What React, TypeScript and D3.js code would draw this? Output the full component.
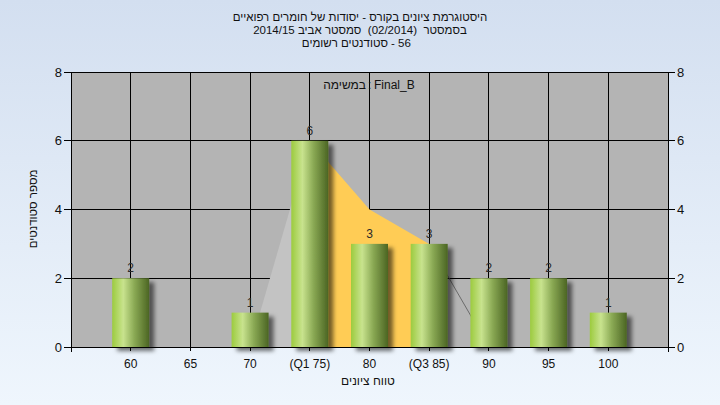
import React from "react";
import * as d3 from "d3";

const categories = [60, 65, 70, 75, 80, 85, 90, 95, 100];
const categoryLabels = ["60", "65", "70", "(Q1 75)", "80", "(Q3 85)", "90", "95", "100"];
const counts = [2, 0, 1, 6, 3, 3, 2, 2, 1];
const curveX = [70, 75, 80, 85, 90];
const curveY = [0, 6, 4, 3, 0];
const q1 = 75;
const q3 = 85;
const yTicks = [0, 2, 4, 6, 8];
const titleLine1 = "היסטוגרמת ציונים בקורס - יסודות של חומרים רפואיים";
const titleLine2 = "בסמסטר  (02/2014)  סמסטר אביב 2014/15";
const titleLine3Heb = "סטודנטים רשומים";
const titleLine3Num = "- 56";
const legendHeb = "במשימה";
const legendName = "Final_B";
const xTitle = "טווח ציונים";
const yTitle = "מספר סטודנטים";

const W = 720;
const H = 405;
const L = 71, R = 668, T = 72, B = 347;

export default function App() {
  const x = d3.scaleLinear().domain([55, 105]).range([L, R]);
  const y = d3.scaleLinear().domain([0, 8]).range([B, T]);
  const barW = 37;
  const font = "Arial, 'Liberation Sans', sans-serif";

  const pts = curveX.map((cx, i) => ({ x: cx, y: curveY[i] }));
  const seg = (a: number, b: number) => pts.filter((p) => p.x >= a && p.x <= b);
  const area = d3
    .area<{ x: number; y: number }>()
    .x((d) => x(d.x))
    .y0(y(0))
    .y1((d) => y(d.y));
  const line = d3
    .line<{ x: number; y: number }>()
    .x((d) => x(d.x))
    .y((d) => y(d.y));

  return (
    <svg width={W} height={H} style={{ position: "absolute", left: 0, top: 0, display: "block" }}>
      <defs>
        <linearGradient id="bg" x1="0" y1="0" x2="0" y2="1">
          <stop offset="0" stopColor="#d3dff0" />
          <stop offset="1" stopColor="#eff6fd" />
        </linearGradient>
        <linearGradient id="bar" x1="0" y1="0" x2="1" y2="0">
          <stop offset="0" stopColor="#9ccb3e" />
          <stop offset="0.3" stopColor="#c8e38e" />
          <stop offset="0.6" stopColor="#8aa954" />
          <stop offset="1" stopColor="#4b6523" />
        </linearGradient>
        <filter id="shadow" x="-30%" y="-30%" width="180%" height="160%">
          <feDropShadow dx="5" dy="4" stdDeviation="2" floodColor="#000" floodOpacity="0.55" />
        </filter>
      </defs>
      <rect x={0} y={0} width={W} height={H} fill="url(#bg)" />
      <rect x={L} y={T} width={R - L} height={B - T} fill="#b4b4b4" />
      {yTicks.map((t) => (
        <line key={"gy" + t} x1={L} x2={R} y1={y(t)} y2={y(t)} stroke="#000" strokeWidth={1} shapeRendering="crispEdges" />
      ))}
      {categories.map((c) => (
        <line key={"gx" + c} x1={x(c)} x2={x(c)} y1={T} y2={B} stroke="#000" strokeWidth={1} shapeRendering="crispEdges" />
      ))}
      <path d={area(seg(curveX[0], q1)) || ""} fill="#c3c3c3" />
      <path d={area(seg(q1, q3)) || ""} fill="#ffcc55" />
      <path d={line(seg(q3, curveX[curveX.length - 1])) || ""} fill="none" stroke="#6a6a6a" strokeWidth={1} />
      {categories.map((c, i) =>
        counts[i] > 0 ? (
          <rect
            key={"b" + c}
            x={x(c) - barW / 2}
            y={y(counts[i])}
            width={barW}
            height={y(0) - y(counts[i])}
            fill="url(#bar)"
            filter="url(#shadow)"
          />
        ) : null
      )}
      {categories.map((c, i) =>
        counts[i] > 0 ? (
          <text key={"v" + c} x={x(c)} y={y(counts[i]) - 6} textAnchor="middle" fontFamily={font} fontSize={12} fill="#2a2a2a">
            {counts[i]}
          </text>
        ) : null
      )}
      <line x1={L} x2={L} y1={T} y2={B + 5} stroke="#000" shapeRendering="crispEdges" />
      <line x1={R} x2={R} y1={T} y2={B + 5} stroke="#000" shapeRendering="crispEdges" />
      <line x1={L} x2={R} y1={B} y2={B} stroke="#000" shapeRendering="crispEdges" />
      <line x1={L} x2={R} y1={T} y2={T} stroke="#000" shapeRendering="crispEdges" />
      {yTicks.map((t) => (
        <g key={"yt" + t}>
          <line x1={L - 7} x2={L} y1={y(t)} y2={y(t)} stroke="#000" shapeRendering="crispEdges" />
          <line x1={R} x2={R + 7} y1={y(t)} y2={y(t)} stroke="#000" shapeRendering="crispEdges" />
          <text x={L - 9} y={y(t) + 4.5} textAnchor="end" fontFamily={font} fontSize={13} fill="#111">
            {t}
          </text>
          <text x={R + 9} y={y(t) + 4.5} textAnchor="start" fontFamily={font} fontSize={13} fill="#111">
            {t}
          </text>
        </g>
      ))}
      {categories.map((c, i) => (
        <g key={"xt" + c}>
          <line x1={x(c)} x2={x(c)} y1={B} y2={B + 4} stroke="#000" shapeRendering="crispEdges" />
          <text x={x(c)} y={368} textAnchor="middle" fontFamily={font} fontSize={12} fill="#111">
            {categoryLabels[i]}
          </text>
        </g>
      ))}
      <text x={360} y={21} textAnchor="middle" fontFamily={font} fontSize={11.5} fill="#111">
        {titleLine1}
      </text>
      <text x={360} y={34} textAnchor="middle" fontFamily={font} fontSize={11.5} fill="#111" style={{ whiteSpace: "pre" }}>
        {titleLine2}
      </text>
      <text x={388} y={47} textAnchor="end" fontFamily={font} fontSize={11.5} fill="#111">
        {titleLine3Heb}
      </text>
      <text x={391} y={47} textAnchor="start" fontFamily={font} fontSize={11.5} fill="#111">
        {titleLine3Num}
      </text>
      <text x={366} y={89} textAnchor="end" fontFamily={font} fontSize={12} fill="#111">
        {legendHeb}
      </text>
      <text x={368} y={89} textAnchor="start" fontFamily={font} fontSize={12} fill="#111">
        {":"}
      </text>
      <text x={374} y={89} textAnchor="start" fontFamily={font} fontSize={12} fill="#111">
        {legendName}
      </text>
      <text x={368} y={385} textAnchor="middle" fontFamily={font} fontSize={12} fill="#111">
        {xTitle}
      </text>
      <text transform={`translate(37,209) rotate(-90)`} textAnchor="middle" fontFamily={font} fontSize={11.5} fill="#111">
        {yTitle}
      </text>
    </svg>
  );
}
